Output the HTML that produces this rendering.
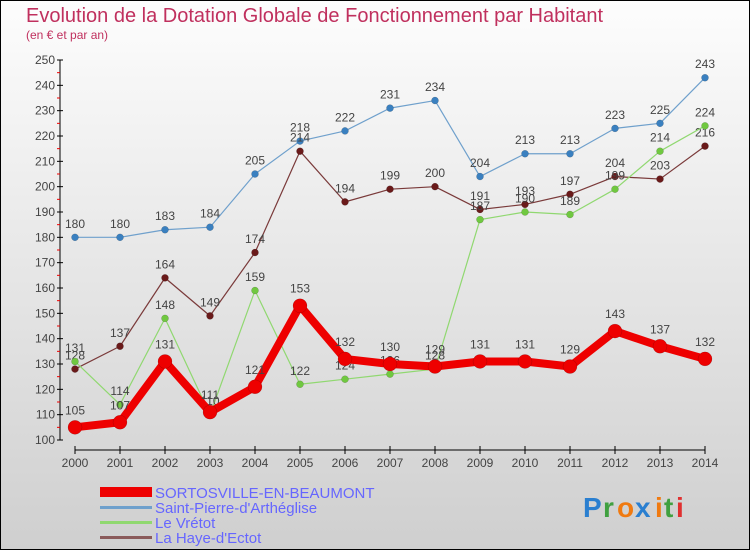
<!DOCTYPE html>
<html><head><meta charset="utf-8"><style>
body{margin:0;}
#c{width:750px;height:550px;position:relative;overflow:hidden;font-family:"Liberation Sans",sans-serif;}
</style></head><body>
<div id="c">
<svg id="s" width="750" height="550" xmlns="http://www.w3.org/2000/svg">
<defs><linearGradient id="bg" x1="0" y1="0" x2="0" y2="1"><stop offset="0" stop-color="#fdfdfd"/><stop offset="1" stop-color="#cfcfcf"/></linearGradient></defs>
<rect x="0.5" y="0.5" width="749" height="549" fill="url(#bg)" stroke="#000"/>
<text x="26" y="22" font-size="20" fill="#c0305e">Evolution de la Dotation Globale de Fonctionnement par Habitant</text>
<text x="26" y="39" font-size="12" fill="#c0305e">(en € et par an)</text>
<g id="axes"></g><g id="series"></g>
<g>
<rect x="100" y="487" width="52" height="10" fill="#e00"/>
<text x="155" y="498" font-size="15" fill="#6666ff">SORTOSVILLE-EN-BEAUMONT</text>
<rect x="100" y="506" width="52" height="3" fill="#6fa0cc"/>
<text x="155" y="513" font-size="15" fill="#6666ff">Saint-Pierre-d'Arthéglise</text>
<rect x="100" y="521" width="52" height="3" fill="#90d870"/>
<text x="155" y="528" font-size="15" fill="#6666ff">Le Vrétot</text>
<rect x="100" y="536" width="52" height="3" fill="#8a5a5a"/>
<text x="155" y="543" font-size="15" fill="#6666ff">La Haye-d'Ectot</text>
</g>
<g font-size="28" font-weight="bold">
<text x="583" y="517" fill="#2a7fd0">P</text><text x="603" y="517" fill="#40a040">r</text><text x="617" y="517" fill="#f07a10">o</text><text x="635" y="517" fill="#2a7fd0">x</text><text x="655" y="517" fill="#f07a10">i</text><text x="664" y="517" fill="#40a040">t</text><text x="676" y="517" fill="#e03030">i</text>
</g>
</svg></div>
<script>
const years=[2000,2001,2002,2003,2004,2005,2006,2007,2008,2009,2010,2011,2012,2013,2014];
const yTicks=[100,110,120,130,140,150,160,170,180,190,200,210,220,230,240,250];
const sortosville=[105,107,131,111,121,153,132,130,129,131,131,129,143,137,132];
const saintPierre=[180,180,183,184,205,218,222,231,234,204,213,213,223,225,243];
const vretot=[131,114,148,110,159,122,124,126,128,187,190,189,199,214,224];
const haye=[128,137,164,149,174,214,194,199,200,191,193,197,204,203,216];
const NS="http://www.w3.org/2000/svg";
function X(i){return 75+i*45;}
function Y(v){return 440-(v-100)*(380/150);}
function mk(tag,attrs,parent){const e=document.createElementNS(NS,tag);for(const k in attrs)e.setAttribute(k,attrs[k]);parent.appendChild(e);return e;}
const ax=document.getElementById('axes');
const yl=mk('line',{x1:60,y1:60,x2:60,y2:440,stroke:'#000'},ax);


const xl=mk('line',{x1:75,y1:450,x2:705,y2:450,stroke:'#000'},ax);


yTicks.forEach(v=>{
 mk('line',{x1:57,y1:Y(v),x2:63,y2:Y(v),stroke:'#000'},ax);
 if(v<250)mk('line',{x1:57,y1:Y(v+5),x2:60,y2:Y(v+5),stroke:'#e00'},ax);
 const t=mk('text',{x:55,y:Y(v)+4,'font-size':12,'text-anchor':'end',fill:'#444'},ax);t.textContent=v;
 
 
});
years.forEach((y,i)=>{
 mk('line',{x1:X(i),y1:446,x2:X(i),y2:454,stroke:'#000'},ax);
 const t=mk('text',{x:X(i),y:467,'font-size':12,'text-anchor':'middle',fill:'#444'},ax);t.textContent=y;
 
 
});
const sg=document.getElementById('series');
function draw(data,color,dot,w,r,name){
 const g=mk('g',{},sg);
 
 
 const p=mk('polyline',{points:data.map((v,i)=>X(i)+','+Y(v)).join(' '),fill:'none',stroke:color,'stroke-width':w,'stroke-linejoin':'round'},g);
 
 
 data.forEach((v,i)=>{
  const c=mk('circle',{cx:X(i),cy:Y(v),r:r,fill:dot,stroke:'rgba(0,0,0,0.25)','stroke-width':0.5},g);
  
  
  const t=mk('text',{x:X(i),y:Y(v)-(r+6),'font-size':12,'text-anchor':'middle',fill:'#444'},g);t.textContent=v;
  
  
 });
}
draw(saintPierre,'#6fa0cc','#3a80c0',1.2,3.5,'saint-pierre');
draw(haye,'#7a3a3a','#6a1a1a',1.2,3.5,'haye');
draw(vretot,'#90d870','#70c840',1.2,3.5,'vretot');
draw(sortosville,'#ee0000','#ee0000',8,7,'sortosville');
</script>
</body></html>
